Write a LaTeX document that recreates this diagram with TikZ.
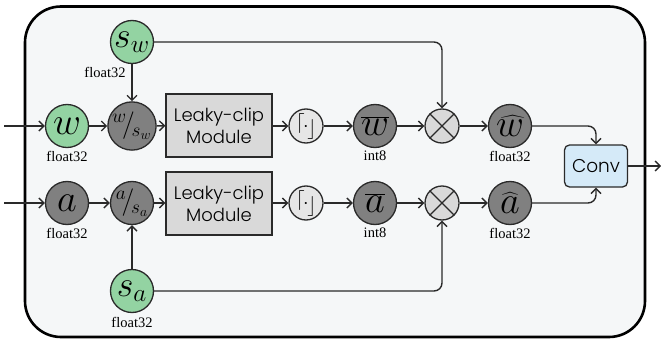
\RequirePackage{fix-cm}
\documentclass[tikz,border=0pt]{standalone}
\usepackage{fontspec}
\setmainfont{Liberation Serif}
\newfontfamily\popfont{Poppins Light}
\usetikzlibrary{arrows.meta}

\definecolor{framefill}{HTML}{F5F7F8}
\definecolor{greenfill}{HTML}{93D3A2}
\definecolor{darkfill}{HTML}{808080}
\definecolor{boxfill}{HTML}{D9D9D9}
\definecolor{lightfill}{HTML}{E6E6E6}
\definecolor{convfill}{HTML}{D5EAF8}
\definecolor{edge}{HTML}{2A2A2A}

% large math symbol inside a circle
\newcommand{\sym}[2][1.6]{\scalebox{#1}{$#2$}}
% rounding operator: raised left ceiling, centred dot, lowered right floor
\newcommand{\roundop}{\raisebox{3pt}{$\lceil$}\kern-1.5pt$\cdot$\kern-1.5pt\raisebox{-3pt}{$\rfloor$}}

\tikzset{
  circbase/.style={circle, draw=edge, line width=1.3pt, inner sep=0pt, minimum size=43pt},
  gcirc/.style={circbase, fill=greenfill, font=\fontsize{24}{26}\selectfont},
  dcirc/.style={circbase, fill=darkfill, font=\fontsize{24}{26}\selectfont},
  rcirc/.style={circle, draw=edge, line width=1.3pt, inner sep=0pt, minimum size=34pt, fill=lightfill, font=\fontsize{20}{22}\selectfont},
  mcirc/.style={circle, draw=edge, line width=1.3pt, inner sep=0pt, minimum size=34pt, fill=boxfill},
  clipbox/.style={draw=edge, line width=1.3pt, fill=boxfill, minimum width=106pt, minimum height=63pt, align=center, font=\popfont\fontsize{18}{22}\selectfont},
  convbox/.style={draw=edge, line width=1.3pt, fill=convfill, rounded corners=5pt, minimum width=63pt, minimum height=42pt, font=\popfont\fontsize{18.5}{20}\selectfont},
  lab/.style={font=\fontsize{14.5}{16}\selectfont},
  arr/.style={line width=1.4pt, draw=edge, -{Straight Barb[length=5pt,width=10pt]}},
  frame/.style={line width=2.6pt, draw=black, fill=framefill, rounded corners=36pt},
}

\begin{document}
\begin{tikzpicture}[x=1pt,y=-1pt]
\useasboundingbox (0,0) rectangle (661,345);
\draw[frame] (25,6.5) rectangle (645,337);

% weight branch
\node[gcirc] (sw) at (132,42) {\sym[1.5]{s_w}};
\node[gcirc] (w) at (67,126) {\sym{w}};
\node[dcirc] (dw) at (132,126) {\sym[1.15]{{}^{w}\!/{}_{\!s_w}}};
\node[clipbox] (lw) at (219,125.5) {Leaky-clip\\Module};
\node[rcirc] (rw) at (306,126) {\roundop};
\node[dcirc] (qw) at (375,126) {\sym{\overline{w}}};
\node[mcirc] (mw) at (442,126) {};
\node[dcirc] (hw) at (510,126) {\sym{\widehat{w}}};

% activation branch
\node[gcirc] (sa) at (132,291) {\sym[1.5]{s_a}};
\node[dcirc] (a) at (67,203) {\sym{a}};
\node[dcirc] (da) at (132,203) {\sym[1.15]{{}^{a}\!/{}_{\!s_a}}};
\node[clipbox] (la) at (219,203.5) {Leaky-clip\\Module};
\node[rcirc] (ra) at (306,203) {\roundop};
\node[dcirc] (qa) at (375,203) {\sym{\overline{a}}};
\node[mcirc] (ma) at (442,203) {};
\node[dcirc] (ha) at (510,203) {\sym{\widehat{a}}};

\node[convbox] (conv) at (596,166) {Conv};

% multiplication crosses
\foreach \m in {mw,ma}{
  \draw[line width=1.3pt, draw=edge] (\m.north west) -- (\m.south east);
  \draw[line width=1.3pt, draw=edge] (\m.north east) -- (\m.south west);
}

% data type labels
\node[lab] (swl) at (105,72) {float32};
\node[lab] (wl) at (67,156) {float32};
\node[lab] (qwl) at (375,156) {int8};
\node[lab] (hwl) at (510,156) {float32};
\node[lab] (al) at (67,233) {float32};
\node[lab] (qal) at (375,233) {int8};
\node[lab] (hal) at (510,233) {float32};
\node[lab] (sal) at (132,322) {float32};

% connectors
\coordinate (inw) at (4,126);
\coordinate (ina) at (4,203);
\coordinate (out) at (661,166);

\draw[arr] (inw) -- (w);
\draw[arr] (w) -- (dw);
\draw[arr] (sw) -- (dw);
\draw[arr] (dw) -- (lw);
\draw[arr] (lw.east |- rw) -- (rw);
\draw[arr] (rw) -- (qw);
\draw[arr] (qw) -- (mw);
\draw[arr] (mw) -- (hw);
\draw[arr, rounded corners=8pt] (sw.east) -| (mw.north);
\draw[arr, rounded corners=8pt] (hw.east) -| (conv.north);

\draw[arr] (ina) -- (a);
\draw[arr] (a) -- (da);
\draw[arr] (sa) -- (da);
\draw[arr] (da) -- (la.west |- da);
\draw[arr] (la.east |- ra) -- (ra);
\draw[arr] (ra) -- (qa);
\draw[arr] (qa) -- (ma);
\draw[arr] (ma) -- (ha);
\draw[arr, rounded corners=8pt] (sa.east) -| (ma.south);
\draw[arr, rounded corners=8pt] (ha.east) -| (conv.south);

\draw[arr] (conv) -- (out);
\end{tikzpicture}
\end{document}
